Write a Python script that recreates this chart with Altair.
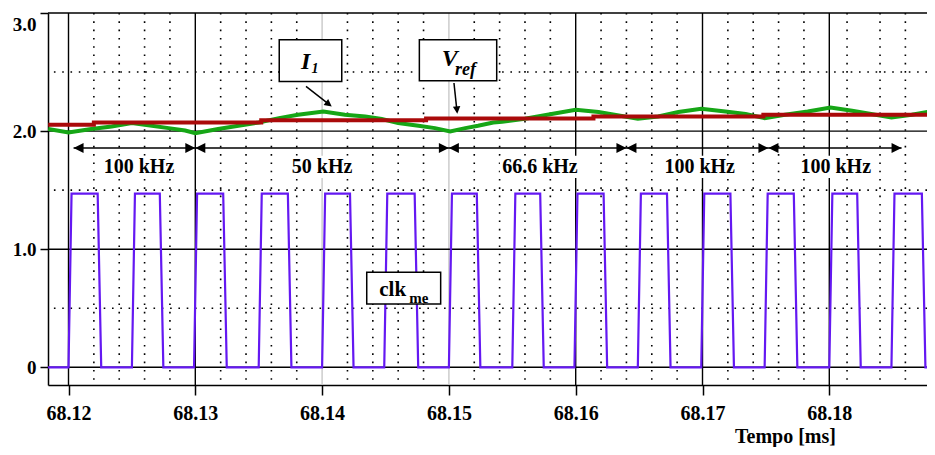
import altair as alt
import pandas as pd

# ---------------- data ----------------
# clock clk_me : rising-edge start and falling-edge start of each pulse (ms)
clk_rise = [68.1200, 68.1250, 68.1299, 68.1350, 68.1400, 68.1449, 68.1500,
            68.1550, 68.1599, 68.1649, 68.1699, 68.1749, 68.1800, 68.1849]
clk_fall = [68.1223, 68.1272, 68.1322, 68.1373, 68.1422, 68.1473, 68.1522,
            68.1572, 68.1622, 68.1672, 68.1722, 68.1772, 68.1822, 68.1873]
clk_high = 1.47
clk_rise_dur = 0.00024
clk_fall_dur = 0.00028

# current I1 (green)
i1_t = [68.1184, 68.1200, 68.1218, 68.1234, 68.1250, 68.1260, 68.1279, 68.1292,
        68.1300, 68.1318, 68.1334, 68.1350, 68.1366, 68.1381, 68.1401, 68.1418,
        68.1434, 68.1447, 68.1460, 68.1476, 68.1489, 68.1501, 68.1513, 68.1523,
        68.1535, 68.1542, 68.1560, 68.1581, 68.1600, 68.1618, 68.1634, 68.1649,
        68.1665, 68.1681, 68.1699, 68.1718, 68.1734, 68.1749, 68.1765, 68.1783,
        68.1801, 68.1818, 68.1833, 68.1849, 68.1865, 68.1882]
i1_v = [2.017, 1.988, 2.017, 2.039, 2.068, 2.053, 2.025, 2.005,
        1.983, 2.017, 2.045, 2.073, 2.110, 2.138, 2.166, 2.138,
        2.124, 2.102, 2.068, 2.045, 2.025, 1.997, 2.025, 2.045,
        2.073, 2.080, 2.104, 2.144, 2.181, 2.161, 2.132, 2.104,
        2.124, 2.161, 2.189, 2.166, 2.144, 2.110, 2.138, 2.166,
        2.200, 2.172, 2.144, 2.115, 2.138, 2.172]

# reference Vref (dark red staircase)
vref_t = [68.1184, 68.1220, 68.1352, 68.1482, 68.1614, 68.1748, 68.1881, 68.1884]
vref_v = [2.053, 2.073, 2.092, 2.107, 2.124, 2.138, 2.166, 2.166]

# frequency spans
span_bounds = [68.1204, 68.1300, 68.1500, 68.1640, 68.1752, 68.1857]
span_labels = ["100 kHz", "50 kHz", "66.6 kHz", "100 kHz", "100 kHz"]
span_label_t = [68.12556, 68.14000, 68.15718, 68.16978, 68.18051]
span_label_halfw = [0.00300, 0.00253, 0.00316, 0.00300, 0.00300]
span_y = 1.856
span_label_y = 1.697

# axis ticks / grid
x_ticks = [68.12, 68.13, 68.14, 68.15, 68.16, 68.17, 68.18]
x_grid_solid = [68.12, 68.13, 68.16, 68.17, 68.18]
x_grid_grey = [68.14, 68.15]
x_grid_dotted = [68.122, 68.124, 68.126, 68.128, 68.132, 68.134, 68.136, 68.138,
                 68.142, 68.144, 68.146, 68.148, 68.152, 68.154, 68.156, 68.158,
                 68.162, 68.164, 68.166, 68.168, 68.172, 68.174, 68.176, 68.178,
                 68.1814, 68.184, 68.186]
y_ticks = [0, 1, 2, 3]
y_grid_dotted = [0.5, 1.5, 2.5]

X0, X1 = 68.118383, 68.187705
Y0, Y1 = -0.15, 3.0

FONT = "Liberation Serif"

# ---------------- tables ----------------
clk_rows = [(X0, 0.0)]
for r, f in zip(clk_rise, clk_fall):
    clk_rows += [(r, 0.0), (r + clk_rise_dur, clk_high), (f, clk_high), (f + clk_fall_dur, 0.0)]
clk_rows.append((X1, 0.0))
clk_df = pd.DataFrame(clk_rows, columns=["t", "v"])
clk_df["i"] = range(len(clk_df))

i1_df = pd.DataFrame({"t": i1_t, "v": i1_v})
i1_df["i"] = range(len(i1_df))
vref_df = pd.DataFrame({"t": vref_t, "v": vref_v})
vref_df["i"] = range(len(vref_df))

xscale = alt.Scale(domain=[X0, X1], nice=False, zero=False)
yscale = alt.Scale(domain=[Y0, Y1], nice=False, zero=False)

xaxis = alt.Axis(values=x_ticks, format=".2f", title="Tempo [ms]", grid=False,
                 labelFont=FONT, labelFontSize=20, labelFontWeight="bold", labelColor="black",
                 labelPadding=8, tickSize=10, tickColor="black", tickWidth=1.5,
                 domainColor="black", domainWidth=1.5, labelFlush=False,
                 titleFont=FONT, titleFontSize=20, titleFontWeight="bold", titleColor="black",
                 titleX=737, titleY=57, titleAlign="center", titleBaseline="alphabetic")
yaxis = alt.Axis(values=y_ticks, title=None, grid=False,
                 labelExpr="datum.value == 0 ? '0' : format(datum.value, '.1f')",
                 labelFont=FONT, labelFontSize=19, labelFontWeight="bold", labelColor="black",
                 labelPadding=4, tickSize=8, tickColor="black", tickWidth=1.5,
                 domainColor="black", domainWidth=1.5,
                 labelOffset={"condition": {"test": "datum.value >= 2.9", "value": 11}, "value": 0})


def X(field="t"):
    return alt.X(f"{field}:Q", scale=xscale, axis=xaxis)


def Y(field="v"):
    return alt.Y(f"{field}:Q", scale=yscale, axis=yaxis)


layers = []

# grids
layers.append(alt.Chart(pd.DataFrame({"t": x_grid_dotted})).mark_rule(
    color="black", strokeWidth=1.6, strokeDash=[1.6, 6.7]).encode(x=X()))
layers.append(alt.Chart(pd.DataFrame({"v": y_grid_dotted})).mark_rule(
    color="black", strokeWidth=1.6, strokeDash=[1.6, 6.7]).encode(y=Y()))
layers.append(alt.Chart(pd.DataFrame({"t": x_grid_grey})).mark_rule(
    color="#c4c4c4", strokeWidth=1.3).encode(x=X()))
layers.append(alt.Chart(pd.DataFrame({"t": x_grid_solid})).mark_rule(
    color="black", strokeWidth=1.4).encode(x=X()))
layers.append(alt.Chart(pd.DataFrame({"v": y_ticks})).mark_rule(
    color="black", strokeWidth=1.4).encode(y=Y()))

# label backgrounds
lab_df = pd.DataFrame({"t": span_label_t, "label": span_labels, "hw": span_label_halfw})
lab_df["v"] = span_label_y
lab_df["t1"] = lab_df["t"] - lab_df["hw"]
lab_df["t2"] = lab_df["t"] + lab_df["hw"]
lab_df["v1"] = span_label_y + 0.094
lab_df["v2"] = span_label_y - 0.094
layers.append(alt.Chart(lab_df).mark_rect(color="white").encode(
    x=X("t1"), x2="t2:Q", y=Y("v1"), y2="v2:Q"))

# span arrows
span_line = pd.DataFrame({"t": [span_bounds[0]], "t2": [span_bounds[-1]], "v": [span_y]})
layers.append(alt.Chart(span_line).mark_rule(color="black", strokeWidth=1.5).encode(
    x=X(), x2="t2:Q", y=Y()))
left_heads = pd.DataFrame({"t": span_bounds[:-1], "v": span_y})
right_heads = pd.DataFrame({"t": span_bounds[1:], "v": span_y})
layers.append(alt.Chart(left_heads).mark_point(
    shape="M0,0L1,-0.5L1,0.5Z", filled=True, size=400, color="black", opacity=1, strokeWidth=0
).encode(x=X(), y=Y()))
layers.append(alt.Chart(right_heads).mark_point(
    shape="M0,0L-1,-0.5L-1,0.5Z", filled=True, size=400, color="black", opacity=1, strokeWidth=0
).encode(x=X(), y=Y()))

layers.append(alt.Chart(lab_df).mark_text(
    font=FONT, fontSize=20, fontWeight="bold", color="black", align="center", baseline="middle"
).encode(x=X(), y=Y(), text="label:N"))

# signals
layers.append(alt.Chart(i1_df).mark_line(color="#16a616", strokeWidth=4, clip=True).encode(
    x=X(), y=Y(), order="i:Q"))
layers.append(alt.Chart(vref_df).mark_line(color="#aa0a0a", strokeWidth=4, clip=True,
                                           interpolate="step-after").encode(
    x=X(), y=Y(), order="i:Q"))
layers.append(alt.Chart(clk_df).mark_line(color="#6418f2", strokeWidth=2.2, clip=True).encode(
    x=X(), y=Y(), order="i:Q"))

# annotation boxes
box_df = pd.DataFrame({
    "name": ["I1", "Vref", "clk"],
    "t": [68.13662, 68.14767, 68.14352],
    "t2": [68.14155, 68.15377, 68.14935],
    "v": [2.774, 2.774, 0.805],
    "v2": [2.420, 2.427, 0.536],
})
layers.append(alt.Chart(box_df).mark_rect(fill="white", stroke="black", strokeWidth=1.5).encode(
    x=X(), x2="t2:Q", y=Y(), y2="v2:Q"))

# annotation arrows
arr_df = pd.DataFrame({"t": [68.13873, 68.15040], "t2": [68.14060, 68.15064],
                       "v": [2.378, 2.407], "v2": [2.222, 2.165]})
layers.append(alt.Chart(arr_df).mark_rule(color="black", strokeWidth=1.5).encode(
    x=X(), x2="t2:Q", y=Y(), y2="v2:Q"))
layers.append(alt.Chart(pd.DataFrame({"t": [68.14076], "v": [2.208]})).mark_point(
    shape="M0,0L-1,-0.5L-1,0.5Z", filled=True, size=220, color="black", opacity=1,
    strokeWidth=0, angle=38).encode(x=X(), y=Y()))
layers.append(alt.Chart(pd.DataFrame({"t": [68.15066], "v": [2.147]})).mark_point(
    shape="M0,0L-1,-0.5L-1,0.5Z", filled=True, size=220, color="black", opacity=1,
    strokeWidth=0, angle=85).encode(x=X(), y=Y()))

# annotation texts
def txt(t, v, s, size, italic):
    kw = dict(font=FONT, fontSize=size, fontWeight="bold", color="black",
              align="left", baseline="alphabetic")
    if italic:
        kw["fontStyle"] = "italic"
    return alt.Chart(pd.DataFrame({"t": [t], "v": [v], "s": [s]})).mark_text(**kw).encode(
        x=X(), y=Y(), text="s:N")

layers.append(txt(68.13834, 2.528, "I", 24, True))
layers.append(txt(68.13916, 2.490, "1", 14, True))
layers.append(txt(68.14943, 2.547, "V", 24, True))
layers.append(txt(68.15048, 2.477, "ref", 18, True))
layers.append(txt(68.14451, 0.604, "clk", 21, False))
layers.append(txt(68.14688, 0.542, "me", 15, False))

chart = alt.layer(*layers).properties(
    width=879, height=372,
    autosize=alt.AutoSizeParams(type="none"),
    padding={"left": 40, "top": 5, "right": 0, "bottom": 62},
    background="white",
).configure_view(strokeWidth=0)

chart.save("out.html", embed_options={"renderer": "svg", "actions": False})
